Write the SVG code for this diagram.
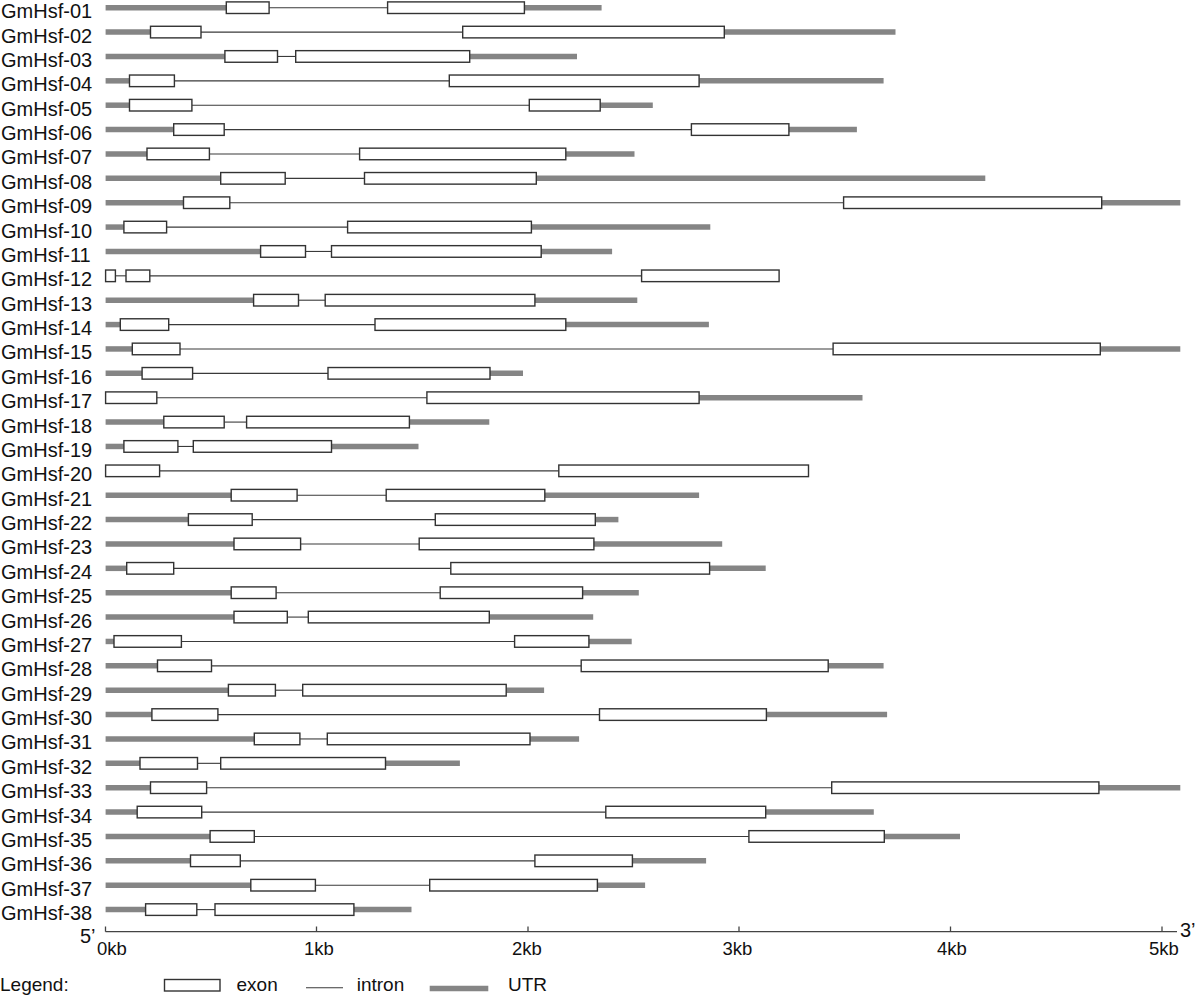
<svg xmlns="http://www.w3.org/2000/svg" width="1200" height="998" viewBox="0 0 1200 998">
<style>
text{font-family:"Liberation Sans",Arial,sans-serif;fill:#111}
.lbl{font-size:20px}
.ax{font-size:18.5px}
.utr{stroke:#858585;stroke-width:5.5;fill:none}
.intron{stroke:#3a3a3a;stroke-width:1.1;fill:none}
.exon{fill:#fff;stroke:#333;stroke-width:1.4}
.axis{stroke:#444;stroke-width:1.3;fill:none}
</style>
<rect width="1200" height="998" fill="#fff"/>
<g id="genes">
<g id="GmHsf-01" transform="translate(0,7.7)"><text class="lbl" x="1" y="10.5">GmHsf-01</text><line class="utr" x1="105.6" y1="0" x2="226.3" y2="0"/><line class="utr" x1="524.4" y1="0" x2="601.6" y2="0"/><line class="intron" x1="269.1" y1="0" x2="387.6" y2="0"/><rect class="exon" x="226.3" y="-5.8" width="42.8" height="11.6"/><rect class="exon" x="387.6" y="-5.8" width="136.8" height="11.6"/></g>
<g id="GmHsf-02" transform="translate(0,32.08)"><text class="lbl" x="1" y="10.5">GmHsf-02</text><line class="utr" x1="105.6" y1="0" x2="150.5" y2="0"/><line class="utr" x1="724.3" y1="0" x2="895.5" y2="0"/><line class="intron" x1="201" y1="0" x2="462.7" y2="0"/><rect class="exon" x="150.5" y="-5.8" width="50.5" height="11.6"/><rect class="exon" x="462.7" y="-5.8" width="261.6" height="11.6"/></g>
<g id="GmHsf-03" transform="translate(0,56.45)"><text class="lbl" x="1" y="10.5">GmHsf-03</text><line class="utr" x1="105.6" y1="0" x2="224.9" y2="0"/><line class="utr" x1="469.7" y1="0" x2="577" y2="0"/><line class="intron" x1="277.5" y1="0" x2="295.7" y2="0"/><rect class="exon" x="224.9" y="-5.8" width="52.6" height="11.6"/><rect class="exon" x="295.7" y="-5.8" width="174" height="11.6"/></g>
<g id="GmHsf-04" transform="translate(0,80.83)"><text class="lbl" x="1" y="10.5">GmHsf-04</text><line class="utr" x1="105.6" y1="0" x2="129.5" y2="0"/><line class="utr" x1="699.1" y1="0" x2="883.6" y2="0"/><line class="intron" x1="174.4" y1="0" x2="449.3" y2="0"/><rect class="exon" x="129.5" y="-5.8" width="44.9" height="11.6"/><rect class="exon" x="449.3" y="-5.8" width="249.8" height="11.6"/></g>
<g id="GmHsf-05" transform="translate(0,105.2)"><text class="lbl" x="1" y="10.5">GmHsf-05</text><line class="utr" x1="105.6" y1="0" x2="129.5" y2="0"/><line class="utr" x1="600.2" y1="0" x2="652.8" y2="0"/><line class="intron" x1="191.9" y1="0" x2="529.3" y2="0"/><rect class="exon" x="129.5" y="-5.8" width="62.4" height="11.6"/><rect class="exon" x="529.3" y="-5.8" width="70.9" height="11.6"/></g>
<g id="GmHsf-06" transform="translate(0,129.58)"><text class="lbl" x="1" y="10.5">GmHsf-06</text><line class="utr" x1="105.6" y1="0" x2="173.7" y2="0"/><line class="utr" x1="788.9" y1="0" x2="856.9" y2="0"/><line class="intron" x1="224.2" y1="0" x2="691.4" y2="0"/><rect class="exon" x="173.7" y="-5.8" width="50.5" height="11.6"/><rect class="exon" x="691.4" y="-5.8" width="97.5" height="11.6"/></g>
<g id="GmHsf-07" transform="translate(0,153.95)"><text class="lbl" x="1" y="10.5">GmHsf-07</text><line class="utr" x1="105.6" y1="0" x2="147" y2="0"/><line class="utr" x1="565.8" y1="0" x2="634.5" y2="0"/><line class="intron" x1="209.4" y1="0" x2="359.6" y2="0"/><rect class="exon" x="147" y="-5.8" width="62.4" height="11.6"/><rect class="exon" x="359.6" y="-5.8" width="206.2" height="11.6"/></g>
<g id="GmHsf-08" transform="translate(0,178.33)"><text class="lbl" x="1" y="10.5">GmHsf-08</text><line class="utr" x1="105.6" y1="0" x2="220.7" y2="0"/><line class="utr" x1="536.3" y1="0" x2="985.3" y2="0"/><line class="intron" x1="285.2" y1="0" x2="364.5" y2="0"/><rect class="exon" x="220.7" y="-5.8" width="64.5" height="11.6"/><rect class="exon" x="364.5" y="-5.8" width="171.8" height="11.6"/></g>
<g id="GmHsf-09" transform="translate(0,202.7)"><text class="lbl" x="1" y="10.5">GmHsf-09</text><line class="utr" x1="105.6" y1="0" x2="183.5" y2="0"/><line class="utr" x1="1101.7" y1="0" x2="1180.3" y2="0"/><line class="intron" x1="229.8" y1="0" x2="843.6" y2="0"/><rect class="exon" x="183.5" y="-5.8" width="46.3" height="11.6"/><rect class="exon" x="843.6" y="-5.8" width="258.1" height="11.6"/></g>
<g id="GmHsf-10" transform="translate(0,227.08)"><text class="lbl" x="1" y="10.5">GmHsf-10</text><line class="utr" x1="105.6" y1="0" x2="123.9" y2="0"/><line class="utr" x1="531.4" y1="0" x2="710.3" y2="0"/><line class="intron" x1="166.6" y1="0" x2="347.6" y2="0"/><rect class="exon" x="123.9" y="-5.8" width="42.7" height="11.6"/><rect class="exon" x="347.6" y="-5.8" width="183.8" height="11.6"/></g>
<g id="GmHsf-11" transform="translate(0,251.45)"><text class="lbl" x="1" y="10.5">GmHsf-11</text><line class="utr" x1="105.6" y1="0" x2="260.6" y2="0"/><line class="utr" x1="541.2" y1="0" x2="612.1" y2="0"/><line class="intron" x1="305.5" y1="0" x2="331.5" y2="0"/><rect class="exon" x="260.6" y="-5.8" width="44.9" height="11.6"/><rect class="exon" x="331.5" y="-5.8" width="209.7" height="11.6"/></g>
<g id="GmHsf-12" transform="translate(0,275.83)"><text class="lbl" x="1" y="10.5">GmHsf-12</text><line class="intron" x1="115.4" y1="0" x2="126" y2="0"/><line class="intron" x1="149.8" y1="0" x2="641.6" y2="0"/><rect class="exon" x="105.6" y="-5.8" width="9.8" height="11.6"/><rect class="exon" x="126" y="-5.8" width="23.8" height="11.6"/><rect class="exon" x="641.6" y="-5.8" width="137.5" height="11.6"/></g>
<g id="GmHsf-13" transform="translate(0,300.2)"><text class="lbl" x="1" y="10.5">GmHsf-13</text><line class="utr" x1="105.6" y1="0" x2="253.6" y2="0"/><line class="utr" x1="534.9" y1="0" x2="637.3" y2="0"/><line class="intron" x1="298.5" y1="0" x2="325.2" y2="0"/><rect class="exon" x="253.6" y="-5.8" width="44.9" height="11.6"/><rect class="exon" x="325.2" y="-5.8" width="209.7" height="11.6"/></g>
<g id="GmHsf-14" transform="translate(0,324.58)"><text class="lbl" x="1" y="10.5">GmHsf-14</text><line class="utr" x1="105.6" y1="0" x2="120.3" y2="0"/><line class="utr" x1="565.8" y1="0" x2="708.9" y2="0"/><line class="intron" x1="168.7" y1="0" x2="375" y2="0"/><rect class="exon" x="120.3" y="-5.8" width="48.4" height="11.6"/><rect class="exon" x="375" y="-5.8" width="190.8" height="11.6"/></g>
<g id="GmHsf-15" transform="translate(0,348.95)"><text class="lbl" x="1" y="10.5">GmHsf-15</text><line class="utr" x1="105.6" y1="0" x2="132.3" y2="0"/><line class="utr" x1="1100.3" y1="0" x2="1180.3" y2="0"/><line class="intron" x1="180" y1="0" x2="833.1" y2="0"/><rect class="exon" x="132.3" y="-5.8" width="47.7" height="11.6"/><rect class="exon" x="833.1" y="-5.8" width="267.2" height="11.6"/></g>
<g id="GmHsf-16" transform="translate(0,373.33)"><text class="lbl" x="1" y="10.5">GmHsf-16</text><line class="utr" x1="105.6" y1="0" x2="142.1" y2="0"/><line class="utr" x1="490" y1="0" x2="523" y2="0"/><line class="intron" x1="192.6" y1="0" x2="328" y2="0"/><rect class="exon" x="142.1" y="-5.8" width="50.5" height="11.6"/><rect class="exon" x="328" y="-5.8" width="162" height="11.6"/></g>
<g id="GmHsf-17" transform="translate(0,397.7)"><text class="lbl" x="1" y="10.5">GmHsf-17</text><line class="utr" x1="699.1" y1="0" x2="862.5" y2="0"/><line class="intron" x1="156.8" y1="0" x2="426.9" y2="0"/><rect class="exon" x="105.6" y="-5.8" width="51.2" height="11.6"/><rect class="exon" x="426.9" y="-5.8" width="272.2" height="11.6"/></g>
<g id="GmHsf-18" transform="translate(0,422.08)"><text class="lbl" x="1" y="10.5">GmHsf-18</text><line class="utr" x1="105.6" y1="0" x2="163.8" y2="0"/><line class="utr" x1="409.4" y1="0" x2="489.3" y2="0"/><line class="intron" x1="224.2" y1="0" x2="246.6" y2="0"/><rect class="exon" x="163.8" y="-5.8" width="60.4" height="11.6"/><rect class="exon" x="246.6" y="-5.8" width="162.8" height="11.6"/></g>
<g id="GmHsf-19" transform="translate(0,446.45)"><text class="lbl" x="1" y="10.5">GmHsf-19</text><line class="utr" x1="105.6" y1="0" x2="123.9" y2="0"/><line class="utr" x1="331.5" y1="0" x2="418.5" y2="0"/><line class="intron" x1="177.9" y1="0" x2="193.3" y2="0"/><rect class="exon" x="123.9" y="-5.8" width="54" height="11.6"/><rect class="exon" x="193.3" y="-5.8" width="138.2" height="11.6"/></g>
<g id="GmHsf-20" transform="translate(0,470.83)"><text class="lbl" x="1" y="10.5">GmHsf-20</text><line class="intron" x1="159.6" y1="0" x2="558.8" y2="0"/><rect class="exon" x="105.6" y="-5.8" width="54" height="11.6"/><rect class="exon" x="558.8" y="-5.8" width="249.7" height="11.6"/></g>
<g id="GmHsf-21" transform="translate(0,495.2)"><text class="lbl" x="1" y="10.5">GmHsf-21</text><line class="utr" x1="105.6" y1="0" x2="231.2" y2="0"/><line class="utr" x1="544.8" y1="0" x2="699.1" y2="0"/><line class="intron" x1="297.1" y1="0" x2="386.2" y2="0"/><rect class="exon" x="231.2" y="-5.8" width="65.9" height="11.6"/><rect class="exon" x="386.2" y="-5.8" width="158.6" height="11.6"/></g>
<g id="GmHsf-22" transform="translate(0,519.58)"><text class="lbl" x="1" y="10.5">GmHsf-22</text><line class="utr" x1="105.6" y1="0" x2="188.4" y2="0"/><line class="utr" x1="595.3" y1="0" x2="618.4" y2="0"/><line class="intron" x1="252.2" y1="0" x2="435.3" y2="0"/><rect class="exon" x="188.4" y="-5.8" width="63.8" height="11.6"/><rect class="exon" x="435.3" y="-5.8" width="160" height="11.6"/></g>
<g id="GmHsf-23" transform="translate(0,543.95)"><text class="lbl" x="1" y="10.5">GmHsf-23</text><line class="utr" x1="105.6" y1="0" x2="234" y2="0"/><line class="utr" x1="593.9" y1="0" x2="722.2" y2="0"/><line class="intron" x1="300.6" y1="0" x2="419.2" y2="0"/><rect class="exon" x="234" y="-5.8" width="66.6" height="11.6"/><rect class="exon" x="419.2" y="-5.8" width="174.7" height="11.6"/></g>
<g id="GmHsf-24" transform="translate(0,568.33)"><text class="lbl" x="1" y="10.5">GmHsf-24</text><line class="utr" x1="105.6" y1="0" x2="126.7" y2="0"/><line class="utr" x1="709.6" y1="0" x2="765.7" y2="0"/><line class="intron" x1="173.7" y1="0" x2="450.8" y2="0"/><rect class="exon" x="126.7" y="-5.8" width="47" height="11.6"/><rect class="exon" x="450.8" y="-5.8" width="258.8" height="11.6"/></g>
<g id="GmHsf-25" transform="translate(0,592.7)"><text class="lbl" x="1" y="10.5">GmHsf-25</text><line class="utr" x1="105.6" y1="0" x2="231.2" y2="0"/><line class="utr" x1="582.6" y1="0" x2="638.8" y2="0"/><line class="intron" x1="276.1" y1="0" x2="440.2" y2="0"/><rect class="exon" x="231.2" y="-5.8" width="44.9" height="11.6"/><rect class="exon" x="440.2" y="-5.8" width="142.4" height="11.6"/></g>
<g id="GmHsf-26" transform="translate(0,617.08)"><text class="lbl" x="1" y="10.5">GmHsf-26</text><line class="utr" x1="105.6" y1="0" x2="234" y2="0"/><line class="utr" x1="489.3" y1="0" x2="593.2" y2="0"/><line class="intron" x1="287.3" y1="0" x2="308.3" y2="0"/><rect class="exon" x="234" y="-5.8" width="53.3" height="11.6"/><rect class="exon" x="308.3" y="-5.8" width="181" height="11.6"/></g>
<g id="GmHsf-27" transform="translate(0,641.45)"><text class="lbl" x="1" y="10.5">GmHsf-27</text><line class="utr" x1="105.6" y1="0" x2="114" y2="0"/><line class="utr" x1="588.9" y1="0" x2="631.7" y2="0"/><line class="intron" x1="181.4" y1="0" x2="514.6" y2="0"/><rect class="exon" x="114" y="-5.8" width="67.4" height="11.6"/><rect class="exon" x="514.6" y="-5.8" width="74.3" height="11.6"/></g>
<g id="GmHsf-28" transform="translate(0,665.83)"><text class="lbl" x="1" y="10.5">GmHsf-28</text><line class="utr" x1="105.6" y1="0" x2="157.5" y2="0"/><line class="utr" x1="828.2" y1="0" x2="883.6" y2="0"/><line class="intron" x1="211.5" y1="0" x2="581.2" y2="0"/><rect class="exon" x="157.5" y="-5.8" width="54" height="11.6"/><rect class="exon" x="581.2" y="-5.8" width="247" height="11.6"/></g>
<g id="GmHsf-29" transform="translate(0,690.2)"><text class="lbl" x="1" y="10.5">GmHsf-29</text><line class="utr" x1="105.6" y1="0" x2="228.4" y2="0"/><line class="utr" x1="506.2" y1="0" x2="544.1" y2="0"/><line class="intron" x1="275.4" y1="0" x2="302.7" y2="0"/><rect class="exon" x="228.4" y="-5.8" width="47" height="11.6"/><rect class="exon" x="302.7" y="-5.8" width="203.5" height="11.6"/></g>
<g id="GmHsf-30" transform="translate(0,714.58)"><text class="lbl" x="1" y="10.5">GmHsf-30</text><line class="utr" x1="105.6" y1="0" x2="151.9" y2="0"/><line class="utr" x1="766.4" y1="0" x2="887.1" y2="0"/><line class="intron" x1="217.9" y1="0" x2="599.5" y2="0"/><rect class="exon" x="151.9" y="-5.8" width="66" height="11.6"/><rect class="exon" x="599.5" y="-5.8" width="166.9" height="11.6"/></g>
<g id="GmHsf-31" transform="translate(0,738.95)"><text class="lbl" x="1" y="10.5">GmHsf-31</text><line class="utr" x1="105.6" y1="0" x2="254.3" y2="0"/><line class="utr" x1="530" y1="0" x2="579.1" y2="0"/><line class="intron" x1="299.9" y1="0" x2="327.3" y2="0"/><rect class="exon" x="254.3" y="-5.8" width="45.6" height="11.6"/><rect class="exon" x="327.3" y="-5.8" width="202.7" height="11.6"/></g>
<g id="GmHsf-32" transform="translate(0,763.33)"><text class="lbl" x="1" y="10.5">GmHsf-32</text><line class="utr" x1="105.6" y1="0" x2="140" y2="0"/><line class="utr" x1="385.5" y1="0" x2="459.9" y2="0"/><line class="intron" x1="197.5" y1="0" x2="220.7" y2="0"/><rect class="exon" x="140" y="-5.8" width="57.5" height="11.6"/><rect class="exon" x="220.7" y="-5.8" width="164.8" height="11.6"/></g>
<g id="GmHsf-33" transform="translate(0,787.7)"><text class="lbl" x="1" y="10.5">GmHsf-33</text><line class="utr" x1="105.6" y1="0" x2="150.5" y2="0"/><line class="utr" x1="1098.9" y1="0" x2="1180.3" y2="0"/><line class="intron" x1="206.6" y1="0" x2="831.7" y2="0"/><rect class="exon" x="150.5" y="-5.8" width="56.1" height="11.6"/><rect class="exon" x="831.7" y="-5.8" width="267.2" height="11.6"/></g>
<g id="GmHsf-34" transform="translate(0,812.08)"><text class="lbl" x="1" y="10.5">GmHsf-34</text><line class="utr" x1="105.6" y1="0" x2="137.2" y2="0"/><line class="utr" x1="765.7" y1="0" x2="873.8" y2="0"/><line class="intron" x1="201.7" y1="0" x2="605.8" y2="0"/><rect class="exon" x="137.2" y="-5.8" width="64.5" height="11.6"/><rect class="exon" x="605.8" y="-5.8" width="159.9" height="11.6"/></g>
<g id="GmHsf-35" transform="translate(0,836.45)"><text class="lbl" x="1" y="10.5">GmHsf-35</text><line class="utr" x1="105.6" y1="0" x2="210.1" y2="0"/><line class="utr" x1="884.3" y1="0" x2="960" y2="0"/><line class="intron" x1="254.3" y1="0" x2="748.9" y2="0"/><rect class="exon" x="210.1" y="-5.8" width="44.2" height="11.6"/><rect class="exon" x="748.9" y="-5.8" width="135.4" height="11.6"/></g>
<g id="GmHsf-36" transform="translate(0,860.83)"><text class="lbl" x="1" y="10.5">GmHsf-36</text><line class="utr" x1="105.6" y1="0" x2="190.5" y2="0"/><line class="utr" x1="632.4" y1="0" x2="706.1" y2="0"/><line class="intron" x1="240.3" y1="0" x2="534.9" y2="0"/><rect class="exon" x="190.5" y="-5.8" width="49.8" height="11.6"/><rect class="exon" x="534.9" y="-5.8" width="97.5" height="11.6"/></g>
<g id="GmHsf-37" transform="translate(0,885.2)"><text class="lbl" x="1" y="10.5">GmHsf-37</text><line class="utr" x1="105.6" y1="0" x2="250.8" y2="0"/><line class="utr" x1="597.4" y1="0" x2="645.1" y2="0"/><line class="intron" x1="315.4" y1="0" x2="429.7" y2="0"/><rect class="exon" x="250.8" y="-5.8" width="64.6" height="11.6"/><rect class="exon" x="429.7" y="-5.8" width="167.7" height="11.6"/></g>
<g id="GmHsf-38" transform="translate(0,909.6)"><text class="lbl" x="1" y="10.5">GmHsf-38</text><line class="utr" x1="105.6" y1="0" x2="145.6" y2="0"/><line class="utr" x1="353.9" y1="0" x2="411.5" y2="0"/><line class="intron" x1="196.8" y1="0" x2="215" y2="0"/><rect class="exon" x="145.6" y="-5.8" width="51.2" height="11.6"/><rect class="exon" x="215" y="-5.8" width="138.9" height="11.6"/></g>
</g>
<g id="axis">
<line class="axis" x1="105.5" y1="931.7" x2="1177" y2="931.7"/>
<line class="axis" x1="105.5" y1="926.5" x2="105.5" y2="931.7"/>
<line class="axis" x1="316.5" y1="926.5" x2="316.5" y2="931.7"/>
<line class="axis" x1="528" y1="926.5" x2="528" y2="931.7"/>
<line class="axis" x1="739" y1="926.5" x2="739" y2="931.7"/>
<line class="axis" x1="950.5" y1="926.5" x2="950.5" y2="931.7"/>
<line class="axis" x1="1162" y1="926.5" x2="1162" y2="931.7"/>
<text class="lbl" x="80" y="943">5’</text>
<text class="lbl" x="1180" y="937">3’</text>
<text class="ax" x="97" y="955">0kb</text>
<text class="ax" x="319" y="955" text-anchor="middle">1kb</text>
<text class="ax" x="527" y="955" text-anchor="middle">2kb</text>
<text class="ax" x="737.5" y="955" text-anchor="middle">3kb</text>
<text class="ax" x="952" y="955" text-anchor="middle">4kb</text>
<text class="ax" x="1164" y="955" text-anchor="middle">5kb</text>
</g>
<g id="legend">
<text class="lbl" x="0" y="991" style="font-size:19px">Legend:</text>
<rect class="exon" x="164.5" y="979.5" width="55.5" height="11.5"/>
<text class="lbl" x="236.5" y="991" style="font-size:19px">exon</text>
<line class="intron" x1="306" y1="987.7" x2="343" y2="987.7"/>
<text class="lbl" x="356.7" y="991" style="font-size:19px">intron</text>
<line class="utr" x1="429.7" y1="988.5" x2="488.3" y2="988.5"/>
<text class="lbl" x="508" y="991" style="font-size:19px">UTR</text>
</g>
</svg>
